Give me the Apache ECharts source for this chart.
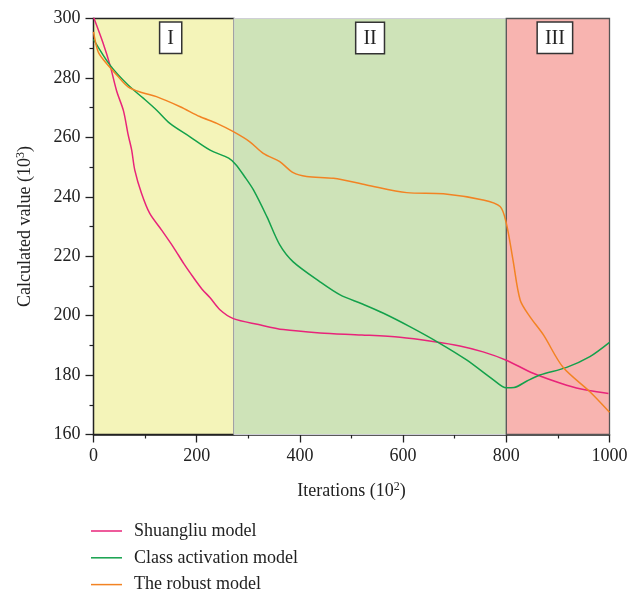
<!DOCTYPE html>
<html>
<head>
<meta charset="utf-8">
<script src="https://cdn.jsdelivr.net/npm/echarts@6/dist/echarts.min.js"></script>
<style>html,body{margin:0;padding:0;background:#fff}#c{width:644px;height:595px}</style>
</head>
<body>
<div id="c"></div>
<script>
var seriesNames = ['Shuangliu model', 'Class activation model', 'The robust model'];
var seriesColors = ['#e8247a', '#13a14b', '#f28323'];

var shuangliuX = [0, 18, 32, 45, 58, 67, 74, 80, 93, 109, 132, 155, 175, 193, 210, 226, 245, 271, 320, 368, 439, 520, 594, 658, 710, 755, 800, 852, 917, 960, 998];
var shuangliuY = [300.5, 292, 284.3, 275.5, 269, 261, 255.7, 249, 241.2, 234.4, 228.8, 223, 217.5, 213, 209, 206, 202, 199, 197, 195.3, 194.2, 193.5, 192.7, 191.3, 189.8, 187.8, 185, 180.6, 176.6, 174.8, 173.8];

var classX = [0, 32, 67, 97, 122, 148, 187, 226, 262, 276, 292, 310, 336, 361, 387, 439, 478, 520, 562, 613, 671, 723, 775, 800, 815, 840, 865, 917, 962, 1000];
var classY = [293, 284.3, 277.6, 273.1, 269.2, 264.7, 260.2, 255.7, 253, 250.8, 247, 242.3, 233.3, 223.8, 218.1, 211.4, 207, 204, 200.8, 196.3, 190.7, 185.1, 178.4, 175.7, 175.8, 178, 180, 182.6, 186.2, 191];

var robustX = [0, 9, 22, 45, 67, 95, 122, 168, 206, 239, 271, 303, 329, 361, 387, 413, 465, 529, 607, 678, 755, 788, 800, 813, 827, 846, 872, 910, 962, 1000];
var robustY = [295.5, 288.8, 285.5, 281, 277, 275, 273.7, 270.3, 267, 264.7, 261.9, 258.5, 254.6, 251.8, 248.1, 246.8, 246.2, 244, 241.4, 241, 238.9, 236.7, 231.1, 218.7, 205.2, 199.6, 193.5, 182.6, 174.4, 167.5];

var regionNames = ['I', 'II', 'III'];
var regionBounds = [[0, 272], [272, 800], [800, 1000]];
var regionColors = ['#f4f4b9', '#cee3b8', '#f8b4b0'];

var xTicks = [0, 200, 400, 600, 800, 1000];
var yTicks = [160, 180, 200, 220, 240, 260, 280, 300];

function pairs(xs, ys) { return xs.map(function (x, i) { return [x, ys[i]]; }); }

var FONT = 'Liberation Serif';
var regionBorders = [{c: '#222', w: 1.5}, {c: '#cfcfd6', w: 1}, {c: '#555', w: 1.3}];
var labelOffsets = [[7, 0], [0, 0], [-3, 0]];

var markAreaData = regionNames.map(function (n, i) {
  return [{
    xAxis: regionBounds[i][0], yAxis: 300,
    itemStyle: { color: regionColors[i], borderColor: regionBorders[i].c, borderWidth: regionBorders[i].w, opacity: 1 },
    label: {
      show: true, formatter: n, position: 'insideTop', distance: 5, offset: labelOffsets[i],
      fontFamily: FONT, fontSize: 20, color: '#222', backgroundColor: '#fff',
      borderColor: '#333', borderWidth: 1.5, padding: [5, 7, 3, 7], lineHeight: 22
    }
  }, { xAxis: regionBounds[i][1], yAxis: 160 }];
});

var series = [0, 1, 2].map(function (i) {
  var d = [pairs(shuangliuX, shuangliuY), pairs(classX, classY), pairs(robustX, robustY)][i];
  var s = {
    name: seriesNames[i], type: 'line', data: d, smooth: 0.3,
    showSymbol: false, symbol: 'none', lineStyle: { color: seriesColors[i], width: 1.5 },
    itemStyle: { color: seriesColors[i] }, z: 3
  };
  if (i === 0) {
    s.markArea = { silent: true, z: 1, data: markAreaData };
  }
  return s;
});

var supStyle = { fontSize: 12, verticalAlign: 'top', padding: [0, 0, 9, 0], fontFamily: FONT, color: '#222' };

var chart = echarts.init(document.getElementById('c'));
chart.setOption({
  animation: false,
  backgroundColor: '#fff',
  textStyle: { fontFamily: FONT },
  grid: { left: 93.5, right: 34.5, top: 18.5, bottom: 160.5, containLabel: false },
  legend: {
    orient: 'vertical', left: 91, top: 521, itemGap: 6.8, padding: 0,
    icon: 'rect', itemWidth: 31, itemHeight: 1.5,
    data: seriesNames,
    textStyle: { fontFamily: FONT, fontSize: 18, color: '#222', lineHeight: 20, padding: [0, 0, 0, 7] }
  },
  xAxis: {
    type: 'value', min: 0, max: 1000, interval: 200,
    name: 'Iterations (10{sup|2})', nameLocation: 'middle', nameGap: 46,
    nameTextStyle: { fontFamily: FONT, fontSize: 18, color: '#222', rich: { sup: supStyle } },
    axisLine: { lineStyle: { color: '#222', width: 1.5 } },
    axisTick: { inside: false, length: 8, lineStyle: { color: '#222', width: 1.3 } },
    minorTick: { show: true, splitNumber: 2, length: 4, lineStyle: { color: '#222', width: 1.2 } },
    axisLabel: { fontFamily: FONT, fontSize: 18, color: '#222', margin: 13, formatter: function (v) { return String(v); } },
    splitLine: { show: false }
  },
  yAxis: {
    type: 'value', min: 160, max: 300, interval: 20,
    name: 'Calculated value (10{sup|3})', nameLocation: 'middle', nameGap: 58, nameRotate: 90,
    nameTextStyle: { fontFamily: FONT, fontSize: 18, color: '#222', rich: { sup: supStyle } },
    axisLine: { show: true, lineStyle: { color: '#222', width: 1.5 } },
    axisTick: { show: true, inside: false, length: 8, lineStyle: { color: '#222', width: 1.3 } },
    minorTick: { show: true, splitNumber: 2, length: 4, lineStyle: { color: '#222', width: 1.2 } },
    axisLabel: { fontFamily: FONT, fontSize: 18, color: '#222', margin: 13, formatter: function (v) { return String(v); } },
    splitLine: { show: false }
  },
  series: series
});
</script>
</body>
</html>
